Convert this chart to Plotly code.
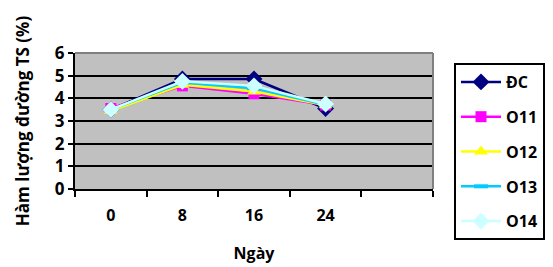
import plotly.graph_objects as go

days = ["0", "8", "16", "24"]
categories = days + [" "]
series_names = ["ĐC", "O11", "O12", "O13", "O14"]
dc = [3.5, 4.85, 4.85, 3.55]
o11 = [3.55, 4.55, 4.2, 3.7]
o12 = [3.45, 4.6, 4.3, 3.7]
o13 = [3.5, 4.7, 4.45, 3.72]
o14 = [3.5, 4.75, 4.55, 3.75]

values = [dc, o11, o12, o13, o14]
colors = ["#000080", "#FF00FF", "#FFFF00", "#00CCFF", "#CCFFFF"]
symbols = ["diamond", "square", "triangle-up", "line-ew", "diamond"]
sizes = [13, 11, 12, 10, 13]

FONT = "Open Sans"
fig = go.Figure()
for name, vals, c, s, sz in zip(series_names, values, colors, symbols, sizes):
    marker = dict(symbol=s, size=sz, color=c, line=dict(width=0, color=c))
    if s == "line-ew":
        marker = dict(symbol=s, size=10, color=c, line=dict(width=4, color=c))
    fig.add_trace(go.Scatter(
        x=days, y=vals, name=name, mode="lines+markers",
        line=dict(color=c, width=2.5), marker=marker, legendgroup=name,
    ))

fig.update_layout(
    width=553, height=267,
    margin=dict(l=67, r=128, t=45, b=86),
    paper_bgcolor="white", plot_bgcolor="#C0C0C0",
    font=dict(family=FONT, size=16, color="black"),
    showlegend=True,
    legend=dict(x=446 / 553, y=1 - 55 / 267, xref="container", yref="container",
                xanchor="left", yanchor="top",
                bordercolor="black", borderwidth=2, bgcolor="white",
                font=dict(family=FONT, size=16, color="black", weight="bold"),
                tracegroupgap=11, itemwidth=40, maxheight=210),
    xaxis=dict(type="category", categoryorder="array", categoryarray=categories,
               range=[-0.5, 4.5], tickson="boundaries", ticks="outside", ticklen=6,
               tickwidth=2, tickcolor="black", showgrid=False, showline=True,
               linecolor="black", linewidth=2, mirror=False, zeroline=False,
               ticklabelstandoff=11,
               tickfont=dict(family=FONT, size=16, weight="bold"),
               title=dict(text="Ngày", font=dict(family=FONT, size=16, weight="bold"), standoff=23)),
    yaxis=dict(range=[0, 6], dtick=1, ticks="outside", ticklen=5, tickwidth=2,
               tickcolor="black", showgrid=True, gridcolor="black", gridwidth=2,
               showline=True, linecolor="black", linewidth=2, zeroline=False,
               tickfont=dict(family=FONT, size=17, weight="bold"),
               title=dict(text="Hàm lượng đường TS (%)", font=dict(family=FONT, size=17, weight="bold"), standoff=21)),
)
fig.add_shape(type="line", xref="paper", yref="paper", x0=0, x1=1, y0=1, y1=1,
              line=dict(color="#808080", width=2))
fig.add_shape(type="line", xref="paper", yref="paper", x0=1, x1=1, y0=0, y1=1,
              line=dict(color="#808080", width=2))

fig.write_html("out.html")
